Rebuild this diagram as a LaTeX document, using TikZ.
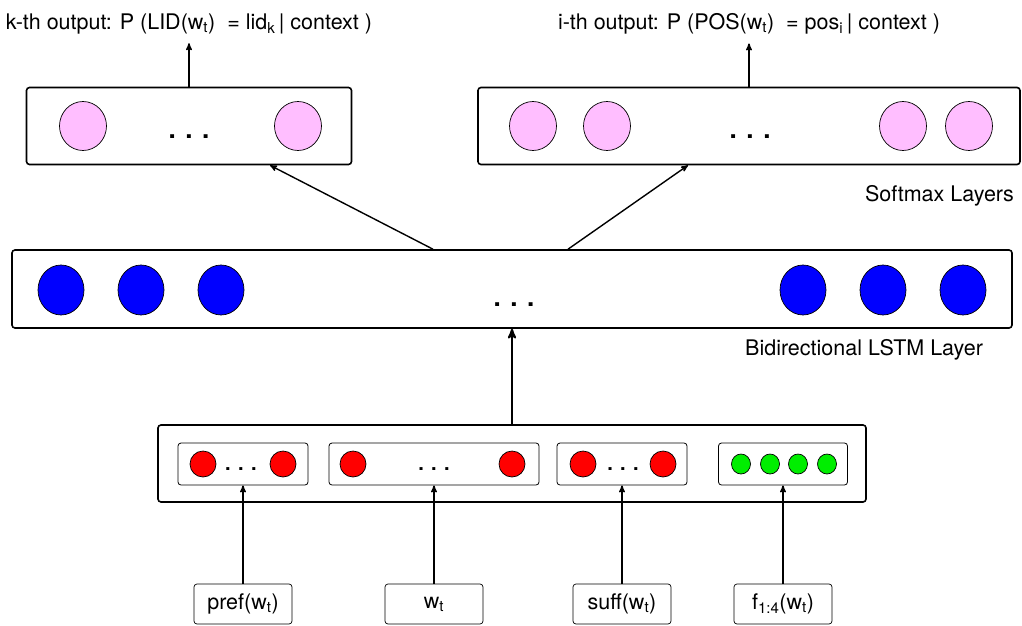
\documentclass[tikz,border=0pt]{standalone}
\usepackage{fontspec}
\setmainfont{TeX Gyre Heros}
\usepackage{tikz}
\usetikzlibrary{arrows,shapes}
\definecolor{pinkish}{RGB}{255,190,255}
\definecolor{greenish}{RGB}{0,238,0}

\begin{document}
\begin{tikzpicture}[x=1pt,y=-1pt,->,>=stealth',line width=1.4pt,node distance=80pt,font=\fontsize{21.5}{25}\selectfont]
  \tikzstyle{layer}=[draw,line width=1.6pt,rounded corners=3pt,inner sep=0pt,minimum height=77pt]
  \tikzstyle{sub}=[draw,line width=0.8pt,rounded corners=3pt,inner sep=0pt,minimum height=42pt]
  \tikzstyle{word}=[draw,line width=0.7pt,rounded corners=3pt,minimum width=98pt,minimum height=40pt,inner sep=0pt]
  \tikzstyle{pk}=[ellipse,draw,line width=0.7pt,fill=pinkish,minimum width=47pt,minimum height=49pt,inner sep=0pt]
  \tikzstyle{bl}=[ellipse,draw,line width=0.7pt,fill=blue,minimum width=46pt,minimum height=50pt,inner sep=0pt]
  \tikzstyle{rd}=[ellipse,draw,line width=0.7pt,fill=red,minimum width=26pt,minimum height=26pt,inner sep=0pt]
  \tikzstyle{gr}=[ellipse,draw,line width=0.7pt,fill=greenish,minimum width=19pt,minimum height=20pt,inner sep=0pt]
  \tikzstyle{bigdots}=[font=\fontsize{26}{26}\selectfont\bfseries,inner sep=0pt]
  \tikzstyle{smalldots}=[font=\fontsize{20}{20}\selectfont\bfseries,inner sep=0pt]

  \useasboundingbox (0,0) rectangle (1022,626);

  % softmax layers
  \node[layer,minimum width=325pt] (SL) at (189,126) {};
  \node[layer,minimum width=542pt] (SP) at (749,126) {};
  \node[pk] (SL1) at (83,126) {};
  \node[pk] (SL2) at (298,126) {};
  \node[bigdots] (SLd) at (189,137) {. . .};
  \node[pk] (SP1) at (533,126) {};
  \node[pk] (SP2) at (607,126) {};
  \node[pk] (SP3) at (903,126) {};
  \node[pk] (SP4) at (969,126) {};
  \node[bigdots] (SPd) at (750,137) {. . .};
  \node[anchor=east] (smx) at (1018,196) {Softmax Layers};

  \node (outL) at (189,24) {k-th output: P (LID(w\textsubscript{t})\ \ = lid\textsubscript{k}\,| context )};
  \node (outR) at (749,24) {i-th output: P (POS(w\textsubscript{t})\ \ = pos\textsubscript{i}\,| context )};
  \draw[shorten >=5pt] (SL) -- (outL);
  \draw[shorten >=5pt] (SP) -- (outR);

  % bidirectional lstm
  \node[layer,minimum width=1000pt,minimum height=78pt] (LS) at (512,289) {};
  \node[bl] (B1) at (61,290) {};
  \node[bl] (B2) [right of=B1] {};
  \node[bl] (B3) [right of=B2] {};
  \node[bl] (B4) at (803,290) {};
  \node[bl] (B5) [right of=B4] {};
  \node[bl] (B6) [right of=B5] {};
  \node[bigdots] (LSd) at (514,305) {. . .};
  \node[anchor=east] (lstm) at (987,350) {Bidirectional LSTM Layer};

  \draw ([xshift=-79pt]LS.north) -- ([xshift=81pt]SL.south);
  \draw ([xshift=56pt]LS.north) -- ([xshift=-61pt]SP.south);

  % input layer
  \node[layer,minimum width=708pt] (IN) at (512,463.5) {};
  \node[sub,minimum width=130pt] (IP) at (243,464) {};
  \node[sub,minimum width=210pt] (IW) at (434,464) {};
  \node[sub,minimum width=130pt] (IS) at (622,464) {};
  \node[sub,minimum width=129pt] (IF) at (783,464) {};
  \node[rd] (P1) at (203,464) {};
  \node[rd] (P2) at (283,464) {};
  \node[smalldots] (Pd) at (241,469) {. . .};
  \node[rd] (W1) at (353,464) {};
  \node[rd] (W2) at (512,464) {};
  \node[smalldots] (Wd) at (434,469) {. . .};
  \node[rd] (S1) at (583,464) {};
  \node[rd] (S2) at (663,464) {};
  \node[smalldots] (Sd) at (623,469) {. . .};
  \node[gr] (F1) at (741,464) {};
  \node[gr] (F2) at (770,464) {};
  \node[gr] (F3) at (798,464) {};
  \node[gr] (F4) at (827,464) {};

  \draw[line width=2.2pt] (IN) -- (LS);

  % words
  \node[word] (BP) at (243,604) {pref(w\textsubscript{t})};
  \node[word] (BW) at (434,604) {w\textsubscript{t}};
  \node[word] (BS) at (622,604) {suff(w\textsubscript{t})};
  \node[word] (BF) at (783,604) {f\textsubscript{1:4}(w\textsubscript{t})};

  \draw (BP) -- (IP);
  \draw (BW) -- (IW);
  \draw (BS) -- (IS);
  \draw (BF) -- (IF);
\end{tikzpicture}
\end{document}
